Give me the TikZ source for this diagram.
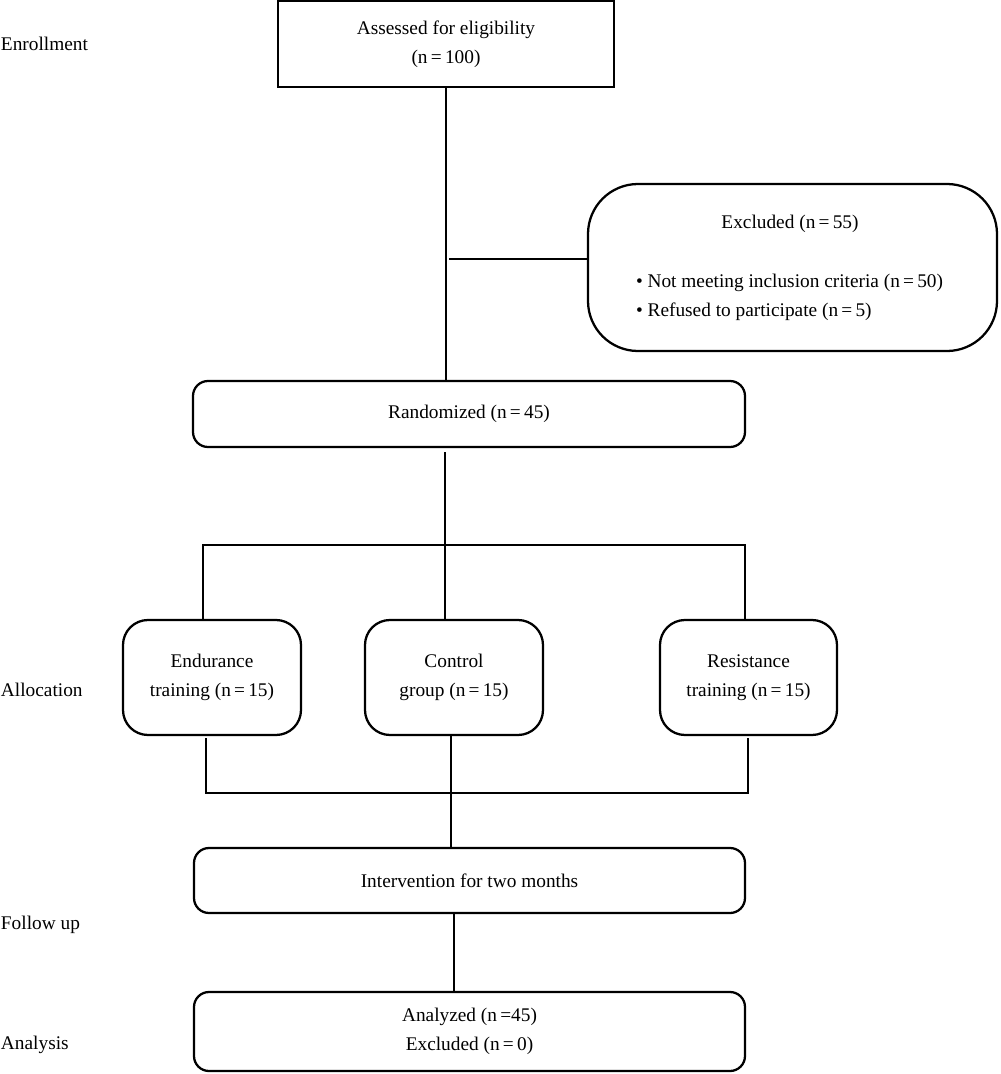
\documentclass[tikz,border=0pt]{standalone}
\usepackage{fontspec}
\setmainfont{Liberation Serif}
\begin{document}
\begin{tikzpicture}[x=0.75pt,y=-0.75pt,
  every node/.style={inner sep=0pt,outer sep=0pt,font=\fontsize{14.5}{21.75}\selectfont},
  box/.style={draw,line width=1.7pt,align=center,anchor=center},
  link/.style={line width=1.7pt},
  lbl/.style={anchor=west}]
\useasboundingbox (0,0) rectangle (1000,1074);
% boxes
\node[box,minimum width=252pt,minimum height=64.5pt] (assess) at (446,44) {Assessed for eligibility\\(n\,=\,100)};
\node[box,rounded corners=37.5pt,minimum width=306.75pt,minimum height=125.25pt] (excl) at (792.5,267.5) {};
\node (exclt) at (790,224) {Excluded (n\,=\,55)};
\node[anchor=west,align=left] (exclb) at (636,297) {\textbullet\ Not meeting inclusion criteria (n\,=\,50)\\\textbullet\ Refused to participate (n\,=\,5)};
\node[box,rounded corners=11.25pt,minimum width=414pt,minimum height=49.5pt] (rand) at (469,414) {Randomized (n\,=\,45)};
\node[box,rounded corners=18.75pt,minimum width=133.5pt,minimum height=86.25pt] (endu) at (212,677.5) {Endurance\\training (n\,=\,15)};
\node[box,rounded corners=18.75pt,minimum width=133.5pt,minimum height=86.25pt] (ctrl) at (454,677.5) {Control\\group (n\,=\,15)};
\node[box,rounded corners=18.75pt,minimum width=132.75pt,minimum height=86.25pt] (resi) at (748.5,677.5) {Resistance\\training (n\,=\,15)};
\node[box,rounded corners=11.25pt,minimum width=413.25pt,minimum height=48.75pt] (interv) at (469.5,880.5) {Intervention for two months};
\node[box,rounded corners=11.25pt,minimum width=413.25pt,minimum height=59.25pt] (anal) at (469.5,1031.5) {Analyzed (n\,=45)\\Excluded (n\,=\,0)};
% side labels
\node[lbl] (l1) at (1,44) {Enrollment};
\node[lbl] (l2) at (1,690) {Allocation};
\node[lbl] (l3) at (1,925) {Follow up};
\node[lbl] (l4) at (1,1045) {Analysis};
% connectors
\coordinate (a1) at (446,87);
\draw[link] (a1) -- (a1 |- rand.north);
\coordinate (b1) at (449,259);
\draw[link] (b1) -- (b1 -| excl.west);
\coordinate (r1) at (445,452);
\draw[link] (r1) -- (r1 |- ctrl.north);
\coordinate (hl) at (203,545);
\coordinate (hr) at (745,545);
\draw[link] (hl |- endu.north) -- (hl) -- (hr) -- (hr |- resi.north);
\coordinate (bl) at (206,793);
\coordinate (br) at (748,793);
\coordinate (el) at (206,738);
\coordinate (er) at (748,738);
\draw[link] (el) -- (bl) -- (br) -- (er);
\coordinate (c1) at (451,735);
\draw[link] (c1) -- (c1 |- interv.north);
\coordinate (i1) at (454,913);
\draw[link] (i1) -- (i1 |- anal.north);
\end{tikzpicture}
\end{document}
